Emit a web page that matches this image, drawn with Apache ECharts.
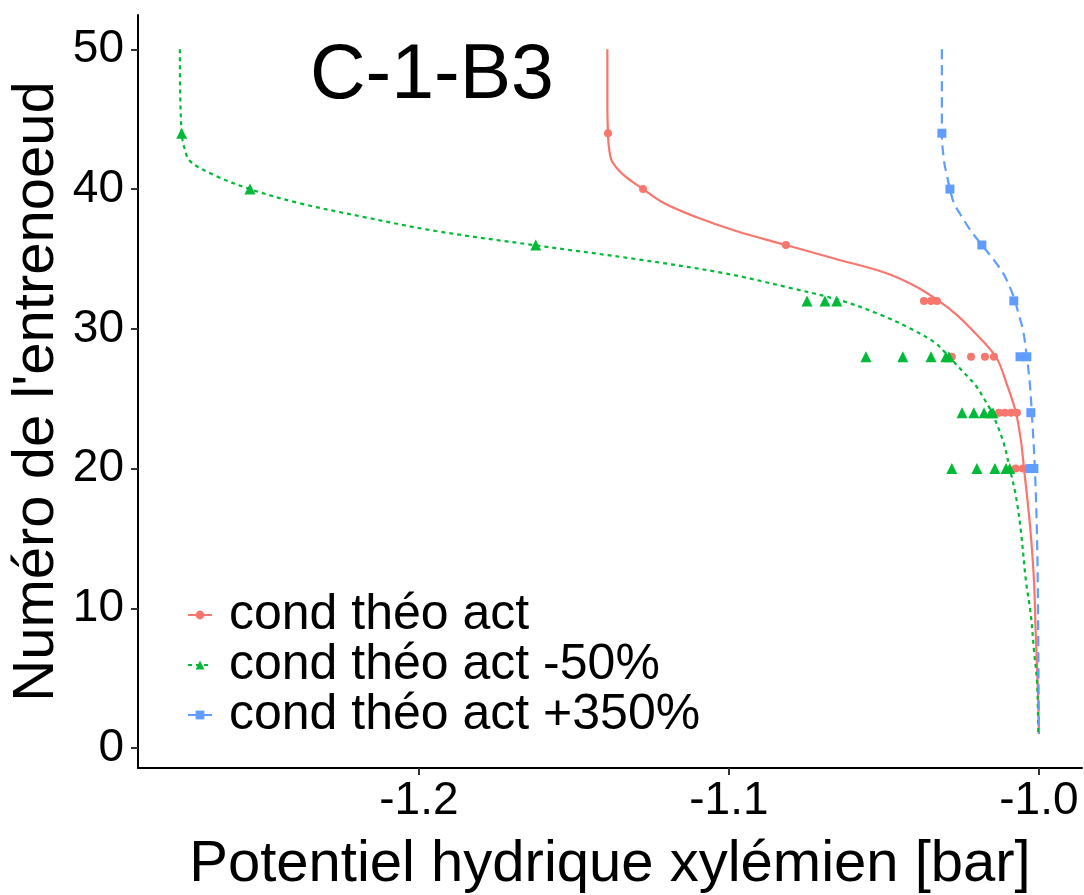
<!DOCTYPE html>
<html>
<head>
<meta charset="utf-8">
<script src="https://cdn.jsdelivr.net/npm/echarts@6/dist/echarts.min.js"></script>
<style>
html,body{margin:0;padding:0;background:#fff;}
#c{width:1084px;height:895px;}
</style>
</head>
<body>
<div id="c"></div>
<script>
// ---- data ----
const seriesNames = ['cond théo act', 'cond théo act -50%', 'cond théo act +350%'];
const xTicks = [-1.2, -1.1, -1.0];
const yTicks = [0, 10, 20, 30, 40, 50];

// fitted curves (x = potentiel, y = entrenoeud)
const redLineY = [50, 46, 44, 43, 42, 41, 40, 39, 38, 37, 36, 35, 34, 33, 32, 31, 30, 28, 26, 24, 22, 20, 16, 12, 8, 4, 1];
const redLineX = [-1.1392, -1.1392, -1.1390, -1.1387, -1.1377, -1.1339, -1.1277, -1.1210, -1.1106, -1.0977, -1.0816, -1.0655, -1.0494, -1.0394, -1.0323, -1.0265, -1.0219, -1.0139, -1.0103, -1.0074, -1.0058, -1.0048, -1.0029, -1.0016, -1.0010, -1.0003, -1.0000];

const greenLineY = [50, 47, 44, 43, 42, 41, 40, 39, 38, 37, 36, 35, 34, 33, 32, 31, 30, 29, 28, 27, 26, 25, 24, 22, 20, 18, 15.5, 12, 9.5, 7, 4.7, 1];
const greenLineX = [-1.2771, -1.2770, -1.2765, -1.2757, -1.2738, -1.2660, -1.2545, -1.2387, -1.2177, -1.1945, -1.1632, -1.1303, -1.1019, -1.0816, -1.0635, -1.0510, -1.0413, -1.0335, -1.0290, -1.0248, -1.0206, -1.0177, -1.0152, -1.0116, -1.0094, -1.0074, -1.0058, -1.0042, -1.0026, -1.0016, -1.0006, -1.0002];

const blueLineY = [50, 44, 42, 41, 40, 39, 38, 37, 36, 35, 34, 33, 32, 31, 30, 28, 26, 24, 20, 15, 10, 1];
const blueLineX = [-1.0313, -1.0313, -1.0306, -1.0297, -1.0287, -1.0274, -1.0248, -1.0219, -1.0184, -1.0148, -1.0116, -1.0094, -1.0077, -1.0065, -1.0052, -1.0039, -1.0029, -1.0023, -1.0013, -1.0006, -1.0003, -1.0000];

// observed / simulated points
const redPtY = [44, 40, 36, 32, 32, 32, 28, 28, 28, 28, 24, 24, 24, 24, 20, 20];
const redPtX = [-1.1390, -1.1277, -1.0816, -1.0371, -1.0348, -1.0329, -1.0281, -1.0219, -1.0174, -1.0145, -1.0129, -1.0110, -1.0090, -1.0071, -1.0075, -1.0052];

const greenPtY = [44, 40, 36, 32, 32, 32, 28, 28, 28, 28, 28, 24, 24, 24, 24, 24, 20, 20, 20, 20, 20];
const greenPtX = [-1.2765, -1.2545, -1.1623, -1.0748, -1.0690, -1.0652, -1.0558, -1.0439, -1.0348, -1.0300, -1.0290, -1.0248, -1.0210, -1.0177, -1.0155, -1.0148, -1.0281, -1.0200, -1.0142, -1.0106, -1.0094];

const bluePtY = [44, 40, 36, 32, 28, 28, 24, 20, 20];
const bluePtX = [-1.0313, -1.0287, -1.0184, -1.0081, -1.0061, -1.0039, -1.0026, -1.0029, -1.0016];

const colors = ['#F8766D', '#00BA38', '#619CFF'];

function pairs(xs, ys) { return xs.map((x, i) => [x, ys[i]]); }

const FONT = '"Liberation Sans", Arial, Helvetica, sans-serif';
const chart = echarts.init(document.getElementById('c'), null, {renderer: 'canvas'});

const lineDefs = [
  {x: redLineX, y: redLineY, type: 'solid', sym: 'circle', ss: 7},
  {x: greenLineX, y: greenLineY, type: [4, 4], sym: 'triangle', ss: 9},
  {x: blueLineX, y: blueLineY, type: [10, 6], sym: 'rect', ss: 7}
];
const ptDefs = [
  {x: redPtX, y: redPtY, sym: 'circle', ss: 8},
  {x: greenPtX, y: greenPtY, sym: 'triangle', ss: 11},
  {x: bluePtX, y: bluePtY, sym: 'rect', ss: 9}
];

const series = [];
lineDefs.forEach((d, i) => {
  series.push({
    name: seriesNames[i], type: 'line', data: pairs(d.x, d.y),
    smooth: 0.35, symbol: d.sym, symbolSize: d.ss, showSymbol: false,
    lineStyle: {color: colors[i], width: 2.2, type: d.type},
    itemStyle: {color: colors[i]}, silent: true, z: 2
  });
});
ptDefs.forEach((d, i) => {
  series.push({
    name: seriesNames[i], type: 'scatter', data: pairs(d.x, d.y),
    symbol: d.sym, symbolSize: d.ss, itemStyle: {color: colors[i], opacity: 1}, z: 3, silent: true
  });
});

chart.setOption({
  animation: false,
  backgroundColor: '#ffffff',
  textStyle: {fontFamily: FONT},
  title: {
    text: 'C-1-B3', left: 305, top: 33,
    textStyle: {fontFamily: FONT, fontSize: 77, fontWeight: 'normal', color: '#000'}
  },
  legend: {
    orient: 'vertical', left: 182, top: 585, itemGap: 0,
    itemWidth: 24, itemHeight: 11,
    data: seriesNames,
    textStyle: {fontFamily: FONT, fontSize: 50, color: '#000', lineHeight: 47, padding: [0, 0, 0, 12]}
  },
  grid: {left: 138, right: 2, top: 15, bottom: 127, containLabel: false, outerBoundsMode: 'none'},
  xAxis: {
    type: 'value', min: -1.2906, max: -0.9861,
    name: 'Potentiel hydrique xylémien [bar]', nameLocation: 'middle', nameGap: 68,
    nameTextStyle: {fontFamily: FONT, fontSize: 58, color: '#000'},
    axisLine: {show: true, onZero: false, lineStyle: {color: '#000', width: 2}},
    axisTick: {show: true, length: 7, lineStyle: {color: '#333', width: 2}, customValues: xTicks},
    axisLabel: {fontFamily: FONT, fontSize: 46, color: '#000', margin: 10, customValues: xTicks,
      formatter: v => v.toFixed(1)},
    splitLine: {show: false}
  },
  yAxis: {
    type: 'value', min: -1.43, max: 52.46,
    name: "Numéro de l'entrenoeud", nameLocation: 'middle', nameGap: 72, nameRotate: 90,
    nameMoveOverlap: false,
    nameTextStyle: {fontFamily: FONT, fontSize: 58, color: '#000'},
    axisLine: {show: true, onZero: false, lineStyle: {color: '#000', width: 2}},
    axisTick: {show: true, length: 7, lineStyle: {color: '#333', width: 2}, customValues: yTicks},
    axisLabel: {fontFamily: FONT, fontSize: 46, color: '#000', margin: 14, customValues: yTicks},
    splitLine: {show: false}
  },
  series: series
});
</script>
</body>
</html>
